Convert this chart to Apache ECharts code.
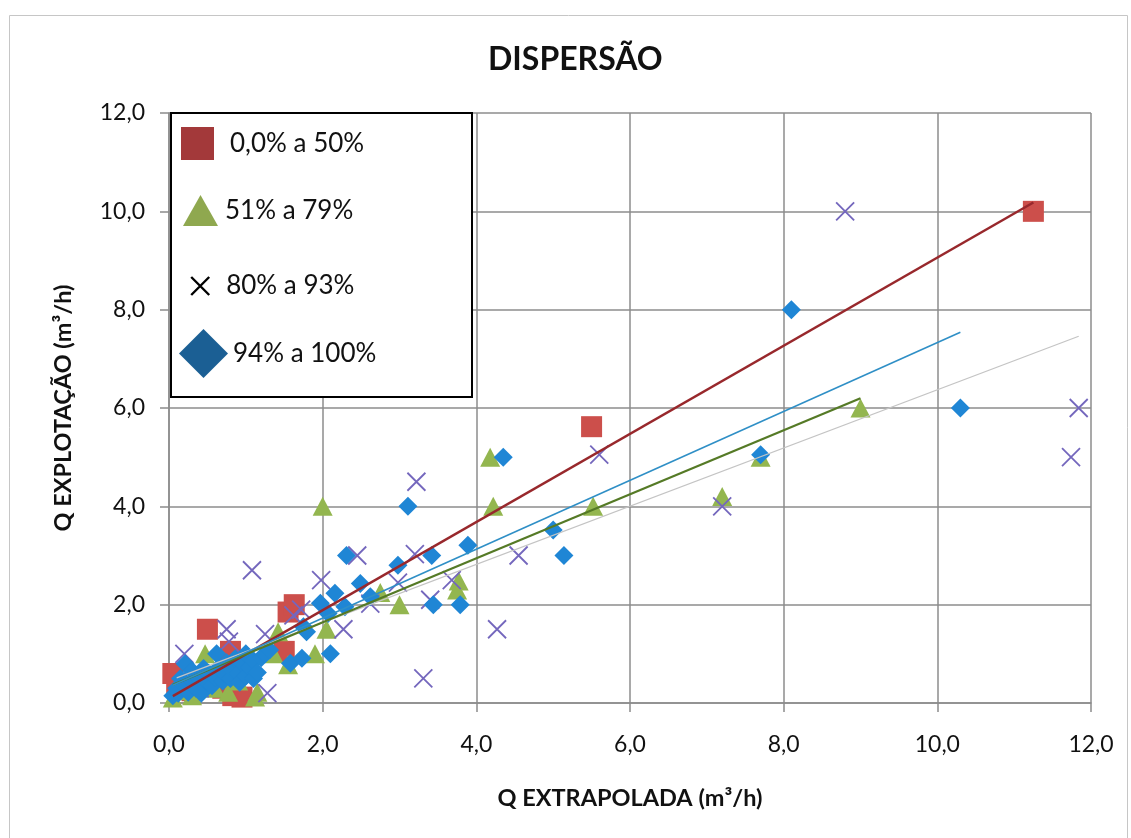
<!DOCTYPE html>
<html>
<head>
<meta charset="utf-8">
<title>DISPERSÃO</title>
<script src="https://cdn.jsdelivr.net/npm/echarts@6/dist/echarts.min.js"></script>
<style>
  html, body { margin: 0; padding: 0; background: #ffffff; }
  #chart { width: 1131px; height: 838px; }
</style>
</head>
<body>
<div id="chart"></div>
<script>
// Q extrapolada (x) vs Q explotação (y), m³/h, grouped by percentage class
const seriesNames = ['0,0% a 50%', '51% a 79%', '80% a 93%', '94% a 100%'];

const pointsRed = [
  [0.05, 0.6], [0.1, 0.4], [0.3, 0.25], [0.5, 1.5], [0.5, 0.35], [0.7, 0.3],
  [0.8, 1.05], [0.83, 0.15], [0.95, 0.12], [1.5, 1.05], [1.55, 1.85],
  [1.63, 2.0], [5.5, 5.62], [11.25, 10.0]
];

const pointsGreen = [
  [0.05, 0.1], [0.15, 0.25], [0.3, 0.15], [0.4, 0.55], [0.47, 1.0], [0.6, 0.3],
  [0.77, 0.22], [0.9, 0.45], [1.0, 0.95], [1.12, 0.12], [1.15, 0.22],
  [1.36, 1.0], [1.42, 1.45], [1.55, 0.78], [1.9, 1.0], [2.05, 1.5], [2.0, 4.0],
  [2.75, 2.25], [3.0, 2.0], [3.75, 2.3], [3.77, 2.48], [4.18, 5.0], [4.22, 4.0],
  [5.52, 4.0], [7.2, 4.2], [7.7, 5.0], [9.0, 6.0]
];

const pointsCross = [
  [0.2, 1.0], [0.4, 0.3], [0.75, 1.5], [0.78, 1.25], [1.0, 0.9], [1.08, 2.7],
  [1.25, 1.4], [1.28, 0.2], [1.62, 1.78], [1.72, 1.9], [1.98, 2.5], [2.27, 1.5],
  [2.45, 3.0], [2.62, 2.02], [2.98, 2.45], [3.2, 3.03], [3.22, 4.5], [3.31, 0.5],
  [3.4, 2.1], [3.68, 2.5], [4.27, 1.5], [4.55, 3.0], [5.6, 5.05], [7.2, 4.0],
  [8.8, 10.0], [11.74, 5.0], [11.84, 6.0]
];

const pointsBlue = [
  [0.05, 0.15], [0.1, 0.3], [0.12, 0.2], [0.15, 0.5], [0.21, 0.8], [0.2, 0.35],
  [0.25, 0.22], [0.3, 0.45], [0.3, 0.65], [0.35, 0.3], [0.4, 0.5], [0.42, 0.2],
  [0.45, 0.7], [0.5, 0.42], [0.52, 0.6], [0.56, 0.35], [0.6, 0.52], [0.62, 1.0],
  [0.65, 0.72], [0.7, 0.45], [0.72, 0.6], [0.75, 0.82], [0.8, 0.5], [0.82, 0.68],
  [0.86, 0.9], [0.9, 0.6], [0.92, 0.42], [0.96, 0.8], [1.0, 1.0], [1.0, 0.55],
  [1.05, 0.72], [1.1, 0.5], [1.1, 0.86], [1.15, 0.62], [1.2, 0.92], [1.25, 1.0],
  [1.31, 1.08], [1.58, 0.81], [1.73, 0.91], [1.75, 1.55], [1.79, 1.45],
  [1.97, 2.03], [2.07, 1.82], [2.1, 1.0], [2.16, 2.23], [2.29, 1.96], [2.31, 3.0],
  [2.49, 2.43], [2.62, 2.16], [2.98, 2.8], [3.11, 4.0], [3.42, 3.0], [3.44, 2.0],
  [3.79, 2.0], [3.89, 3.21], [4.35, 5.0], [5.0, 3.52], [5.14, 3.0], [7.7, 5.05],
  [8.1, 8.0], [10.3, 6.0]
];

// linear trend lines, one per class (start and end points)
const trendRed = [[0.05, 0.14], [11.25, 10.18]];
const trendGreen = [[0.05, 0.37], [9.0, 6.2]];
const trendCross = [[0.1, 0.51], [11.84, 7.46]];
const trendBlue = [[0.05, 0.36], [10.3, 7.54]];

const axisTicks = { min: 0, max: 12, interval: 2 };

const FONT = 'Lato, "Liberation Sans", sans-serif';
const GRID_COLOR = '#8c8c8c';
const CROSS_PATH = 'path://M0,0L10,10M10,0L0,10';

const fmt = v => v.toFixed(1).replace('.', ',');

const chart = echarts.init(document.getElementById('chart'), null, { renderer: 'canvas' });

function axis(name, nameGap, labelMargin) {
  return {
    type: 'value',
    min: axisTicks.min,
    max: axisTicks.max,
    interval: axisTicks.interval,
    name: name,
    nameLocation: 'middle',
    nameGap: nameGap,
    nameTextStyle: { fontFamily: FONT, fontWeight: 'bold', fontSize: 23.5, color: '#111' },
    axisLine: { show: true, onZero: false, lineStyle: { color: GRID_COLOR, width: 1.5 } },
    axisTick: { show: true, inside: false, length: 9, lineStyle: { color: GRID_COLOR, width: 1.5 } },
    axisLabel: { formatter: fmt, fontFamily: FONT, fontSize: 23, color: '#111', margin: labelMargin },
    splitLine: { show: true, lineStyle: { color: GRID_COLOR, width: 1.5 } }
  };
}

function legendFor(name, left, top, w, h, pad, extra) {
  return {
    data: [Object.assign({ name: name }, extra || {})],
    left: left, top: top, orient: 'vertical',
    itemWidth: w, itemHeight: h, padding: 0,
    selectedMode: false, z: 20,
    textStyle: { fontFamily: FONT, fontSize: 26, color: '#111', padding: [0, 0, 0, pad] }
  };
}

const trendLine = (data, color, width) => ({
  type: 'line', data: data, symbol: 'none', silent: true, z: 5,
  lineStyle: { color: color, width: width }, emphasis: { disabled: true }
});

chart.setOption({
  backgroundColor: '#ffffff',
  animation: false,
  title: {
    text: 'DISPERSÃO', left: 483, top: 39,
    textStyle: { fontFamily: FONT, fontWeight: 'bold', fontSize: 32, color: '#111' }
  },
  grid: { left: 169, right: 40, top: 113, bottom: 135, containLabel: false },
  xAxis: axis('Q EXTRAPOLADA (m³/h)', 83, 30),
  yAxis: axis('Q EXPLOTAÇÃO (m³/h)', 94, 24),
  legend: [
    legendFor(seriesNames[0], 181, 127, 33, 33, 11, { icon: 'rect', itemStyle: { color: '#a3393a' } }),
    legendFor(seriesNames[1], 183, 195, 35, 31, 2, { icon: 'triangle', itemStyle: { color: '#8fa84f' } }),
    legendFor(seriesNames[2], 190, 273, 18, 21, 12, {
      icon: CROSS_PATH,
      itemStyle: { color: 'rgba(0,0,0,0)', borderColor: '#000', borderWidth: 2.4 }
    }),
    legendFor(seriesNames[3], 179, 329, 49, 49, 0, { icon: 'diamond', itemStyle: { color: '#1b5f94' } })
  ],
  graphic: [
    {
      type: 'rect', z: -10, silent: true,
      shape: { x: 9.5, y: 15.5, width: 1118, height: 840 },
      style: { fill: 'none', stroke: '#c6c6c6', lineWidth: 1 }
    },
    {
      type: 'rect', z: 10, silent: true,
      shape: { x: 171, y: 113, width: 301, height: 284 },
      style: { fill: '#ffffff', stroke: '#000', lineWidth: 2 }
    }
  ],
  series: [
    {
      name: seriesNames[0], type: 'scatter', data: pointsRed, symbol: 'rect', symbolSize: 21, z: 2,
      itemStyle: { color: '#cc4f4b', opacity: 1 }
    },
    {
      name: seriesNames[1], type: 'scatter', data: pointsGreen, symbol: 'triangle', symbolSize: [20, 19], z: 2,
      itemStyle: { color: '#93b64f', opacity: 1 }
    },
    {
      name: seriesNames[2], type: 'scatter', data: pointsCross, symbol: CROSS_PATH, symbolSize: 18, z: 2,
      itemStyle: { color: 'rgba(0,0,0,0)', borderColor: '#7467bd', borderWidth: 1.8, opacity: 1 }
    },
    {
      name: seriesNames[3], type: 'scatter', data: pointsBlue, symbol: 'diamond', symbolSize: 19, z: 2,
      itemStyle: { color: '#1f86d5', opacity: 1 }
    },
    trendLine(trendRed, '#98282c', 2.5),
    trendLine(trendCross, '#c4c4c4', 1.2),
    trendLine(trendGreen, '#557a26', 2.2),
    trendLine(trendBlue, '#2f8fc6', 1.6)
  ]
});
</script>
</body>
</html>
